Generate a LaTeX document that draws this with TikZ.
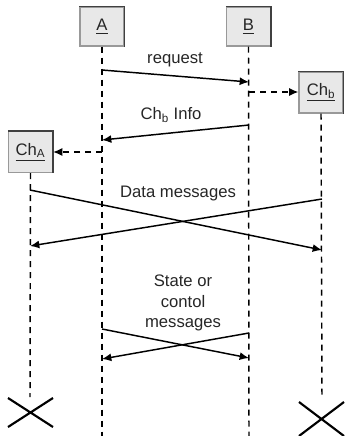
\documentclass[tikz,border=0pt]{standalone}
\usepackage{fontspec}
\setmainfont{Liberation Sans}
\usetikzlibrary{arrows.meta}
\begin{document}
\begin{tikzpicture}[x=0.75pt,y=-0.75pt,
  obj/.style={draw=black!40, fill=black!9, line width=0.8pt, inner sep=0pt,
    minimum width=33pt, font=\fontsize{12.5}{15}\selectfont, text=black!85},
  objedge/.style={draw=black!75, line width=0.9pt},
  life/.style={dash pattern=on 4.5pt off 3.75pt, line width=1.1pt},
  msg/.style={-{Latex[length=7pt,width=6pt]}, line width=1.1pt},
  dmsg/.style={msg, dash pattern=on 4.5pt off 3.75pt},
  lbl/.style={font=\fontsize{12.5}{15.5}\selectfont, text=black!85, align=center},
  cross/.style={line width=1.6pt}]
\useasboundingbox (0,0) rectangle (344,436);
% objects
\node[obj, minimum height=29.25pt] (A) at (102,26.5) {\underline{A}};
\node[obj, minimum height=29.25pt] (B) at (248.5,26.5) {\underline{B}};
\node[obj, minimum height=30.75pt] (Chb) at (321,92.5) {\underline{Ch\textsubscript{b}}};
\node[obj, minimum height=30.75pt] (ChA) at (30.5,152) {\underline{Ch\textsubscript{A}}};
\foreach \n in {A,B,Chb,ChA}
  \draw[objedge] (\n.north west) -- (\n.north east) -- (\n.south east);
% lifeline ends
\coordinate (Aend) at (102,436);
\coordinate (Bend) at (249,436);
\coordinate (Chbend) at (322,397);
\coordinate (ChAend) at (30,397);
\draw[life] (A.south) -- (Aend);
\draw[life] (B.south) -- (Bend);
\draw[life] (Chb.south) -- (Chbend);
\draw[life] (ChA.south) -- (ChAend);
% message end points
\coordinate (r1) at (102,70);  \coordinate (r2) at (249,82);
\coordinate (d1) at (249,92);
\coordinate (i1) at (249,125); \coordinate (i2) at (102,140);
\coordinate (d2) at (102,152);
\coordinate (m1) at (30,190);  \coordinate (m2) at (322,250);
\coordinate (m3) at (322,199); \coordinate (m4) at (30,246);
\coordinate (s1) at (102,329); \coordinate (s2) at (249,358);
\coordinate (s3) at (249,333); \coordinate (s4) at (102,359);
% messages
\draw[msg] (r1) -- (r2);
\draw[dmsg] (d1) -- (d1 -| Chb.west);
\draw[msg] (i1) -- (i2);
\draw[dmsg] (d2) -- (d2 -| ChA.east);
\draw[msg] (m1) -- (m2);
\draw[msg] (m3) -- (m4);
\draw[msg] (s1) -- (s2);
\draw[msg] (s3) -- (s4);
% labels
\node[lbl] (lreq) at (175,60) {request};
\node[lbl] (linfo) at (171,115) {Ch\textsubscript{b} Info};
\node[lbl] (ldata) at (178,193) {Data messages};
\node[lbl] (lstate) at (183,303) {State or\\contol\\messages};
% destruction marks
\coordinate (xa1) at (8,398);  \coordinate (xa2) at (53,427);
\coordinate (xa3) at (8,427);  \coordinate (xa4) at (53,398);
\coordinate (xb1) at (299,402); \coordinate (xb2) at (344,436);
\coordinate (xb3) at (299,436); \coordinate (xb4) at (344,402);
\draw[cross] (xa1) -- (xa2) (xa3) -- (xa4);
\draw[cross] (xb1) -- (xb2) (xb3) -- (xb4);
\end{tikzpicture}
\end{document}
